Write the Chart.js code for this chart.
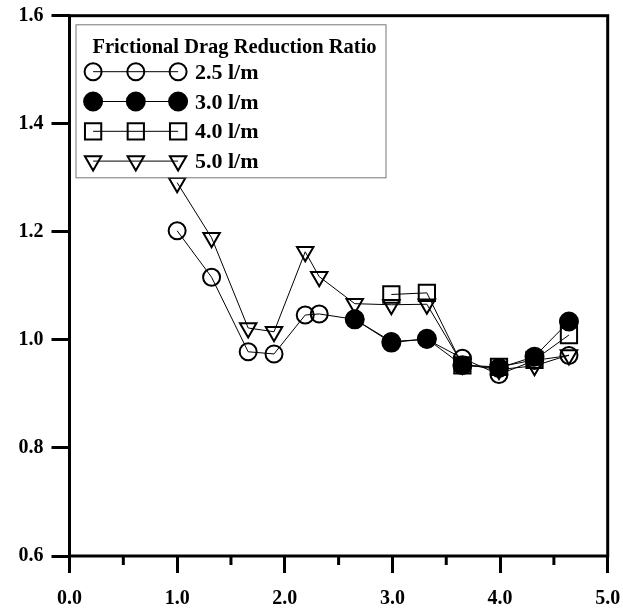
<!DOCTYPE html>
<html>
<head>
<meta charset="utf-8">
<script src="https://cdn.jsdelivr.net/npm/chart.js@4/dist/chart.umd.min.js"></script>
<style>
  html, body { margin: 0; padding: 0; background: #fff; }
  #wrap { width: 623px; height: 612px; }
</style>
</head>
<body>
<div id="wrap"><canvas id="c" width="623" height="612"></canvas></div>
<script>
// Flow positions (x) shared by all series
const xFlow = [1.00, 1.32, 1.66, 1.90, 2.19, 2.32, 2.65, 2.99, 3.32, 3.65, 3.99, 4.32, 4.64];

// Frictional drag reduction ratio for each air flow rate
const ratio25 = [1.202, 1.116, 0.978, 0.974, 1.046, 1.048, 1.038, 0.997, 1.001, 0.966, 0.936, 0.962, 0.971];
const ratio30 = [null, null, null, null, null, null, 1.038, 0.995, 1.002, 0.953, 0.948, 0.969, 1.034];
const ratio40 = [null, null, null, null, null, null, null, 1.084, 1.087, 0.953, 0.950, 0.963, 1.009];
const ratio50 = [1.291, 1.189, 1.022, 1.015, 1.163, 1.117, 1.067, 1.065, 1.066, 0.955, 0.945, 0.952, 0.972];

const seriesNames = ['2.5 l/m', '3.0 l/m', '4.0 l/m', '5.0 l/m'];
const legendTitle = 'Frictional Drag Reduction Ratio';

const xTicks = [0, 1, 2, 3, 4, 5];
const xMinorTicks = [0.5, 1.5, 2.5, 3.5, 4.5];
const yTicks = [0.6, 0.8, 1.0, 1.2, 1.4, 1.6];

const FONT = 'Liberation Serif';

const pts = ys => xFlow.map((x, i) => ({ x: x, y: ys[i] })).filter(p => p.y !== null);

const markerStyles = [
  { pointStyle: 'circle',   radius: 8.5, rotation: 0,   fill: 'rgba(0,0,0,0)' },
  { pointStyle: 'circle',   radius: 9,   rotation: 0,   fill: '#000' },
  { pointStyle: 'rect',     radius: 11.5, rotation: 0,  fill: 'rgba(0,0,0,0)' },
  { pointStyle: 'triangle', radius: 9.5, rotation: 180, fill: 'rgba(0,0,0,0)' }
];

const seriesData = [ratio25, ratio30, ratio40, ratio50];

const datasets = seriesData.map((ys, i) => ({
  label: seriesNames[i],
  data: pts(ys),
  showLine: true,
  borderColor: '#000',
  borderWidth: 1,
  pointStyle: markerStyles[i].pointStyle,
  pointRadius: markerStyles[i].radius,
  pointRotation: markerStyles[i].rotation,
  pointBackgroundColor: markerStyles[i].fill,
  pointBorderColor: '#000',
  pointBorderWidth: 2,
  order: 4 - i
}));

function drawMarker(ctx, style, x, y) {
  ctx.save();
  ctx.fillStyle = style.fill;
  ctx.strokeStyle = '#000';
  ctx.lineWidth = 2;
  Chart.helpers.drawPoint(ctx, {
    pointStyle: style.pointStyle,
    radius: style.radius,
    rotation: style.rotation,
    borderWidth: 2
  }, x, y);
  ctx.restore();
}

// Frame, minor x ticks and boxed legend
const decorations = {
  id: 'decorations',
  afterDatasetsDraw(chart) {
    const ctx = chart.ctx;
    const a = chart.chartArea;

    // legend box
    const bx = a.left + 6, by = a.top + 8.6, bw = 310, bh = 153;
    ctx.save();
    ctx.fillStyle = '#fff';
    ctx.fillRect(bx, by, bw, bh);
    ctx.strokeStyle = '#777';
    ctx.lineWidth = 1;
    ctx.strokeRect(bx + 0.5, by + 0.5, bw, bh);

    ctx.fillStyle = '#000';
    ctx.font = 'bold 20.5px "' + FONT + '"';
    ctx.textBaseline = 'alphabetic';
    ctx.textAlign = 'left';
    ctx.fillText(legendTitle, bx + 17, by + 28.5);

    ctx.font = 'bold 22px "' + FONT + '"';
    const mx = [bx + 17.6, bx + 60.3, bx + 102.6];
    seriesNames.forEach((name, i) => {
      const ry = by + 47.4 + i * 29.8;
      ctx.strokeStyle = '#000';
      ctx.lineWidth = 1;
      ctx.beginPath();
      ctx.moveTo(mx[0], ry);
      ctx.lineTo(mx[2], ry);
      ctx.stroke();
      mx.forEach(x => drawMarker(ctx, markerStyles[i], x, ry));
      ctx.fillStyle = '#000';
      ctx.textBaseline = 'middle';
      ctx.fillText(name, bx + 119.5, ry + 1.5);
    });
    ctx.restore();
  },
  afterDraw(chart) {
    const ctx = chart.ctx;
    const a = chart.chartArea;
    const xs = chart.scales.x;
    ctx.save();
    ctx.strokeStyle = '#000';
    ctx.lineWidth = 3;
    ctx.strokeRect(a.left, a.top, a.right - a.left, a.bottom - a.top);
    xMinorTicks.forEach(v => {
      const px = xs.getPixelForValue(v);
      ctx.beginPath();
      ctx.moveTo(px, a.bottom);
      ctx.lineTo(px, a.bottom + 9);
      ctx.stroke();
    });
    ctx.restore();
  }
};

new Chart(document.getElementById('c'), {
  type: 'scatter',
  data: { datasets: datasets },
  plugins: [decorations],
  options: {
    responsive: false,
    animation: false,
    devicePixelRatio: 1,
    layout: { padding: { top: 15.7, right: 15.3, left: 0, bottom: 0 } },
    plugins: { legend: { display: false }, tooltip: { enabled: false } },
    scales: {
      x: {
        type: 'linear', min: 0, max: 5, position: 'bottom',
        afterBuildTicks: s => { s.ticks = xTicks.map(v => ({ value: v })); },
        afterFit: s => { s.height = 56; s.paddingLeft = 0; s.paddingRight = 0; },
        ticks: {
          callback: v => Number(v).toFixed(1),
          font: { family: FONT, size: 20, weight: 'bold' },
          color: '#000', padding: 14, maxRotation: 0, autoSkip: false
        },
        grid: { drawOnChartArea: false, drawTicks: true, tickLength: 17, tickWidth: 3, tickColor: '#000' },
        border: { display: false }
      },
      y: {
        type: 'linear', min: 0.6, max: 1.6, position: 'left',
        afterBuildTicks: s => { s.ticks = yTicks.map(v => ({ value: v })); },
        afterFit: s => { s.width = 69.5; s.paddingTop = 0; s.paddingBottom = 0; },
        ticks: {
          callback: v => Number(v).toFixed(1),
          font: { family: FONT, size: 20, weight: 'bold' },
          color: '#000', padding: 8, autoSkip: false
        },
        grid: { drawOnChartArea: false, drawTicks: true, tickLength: 18, tickWidth: 3, tickColor: '#000' },
        border: { display: false }
      }
    }
  }
});
</script>
</body>
</html>
